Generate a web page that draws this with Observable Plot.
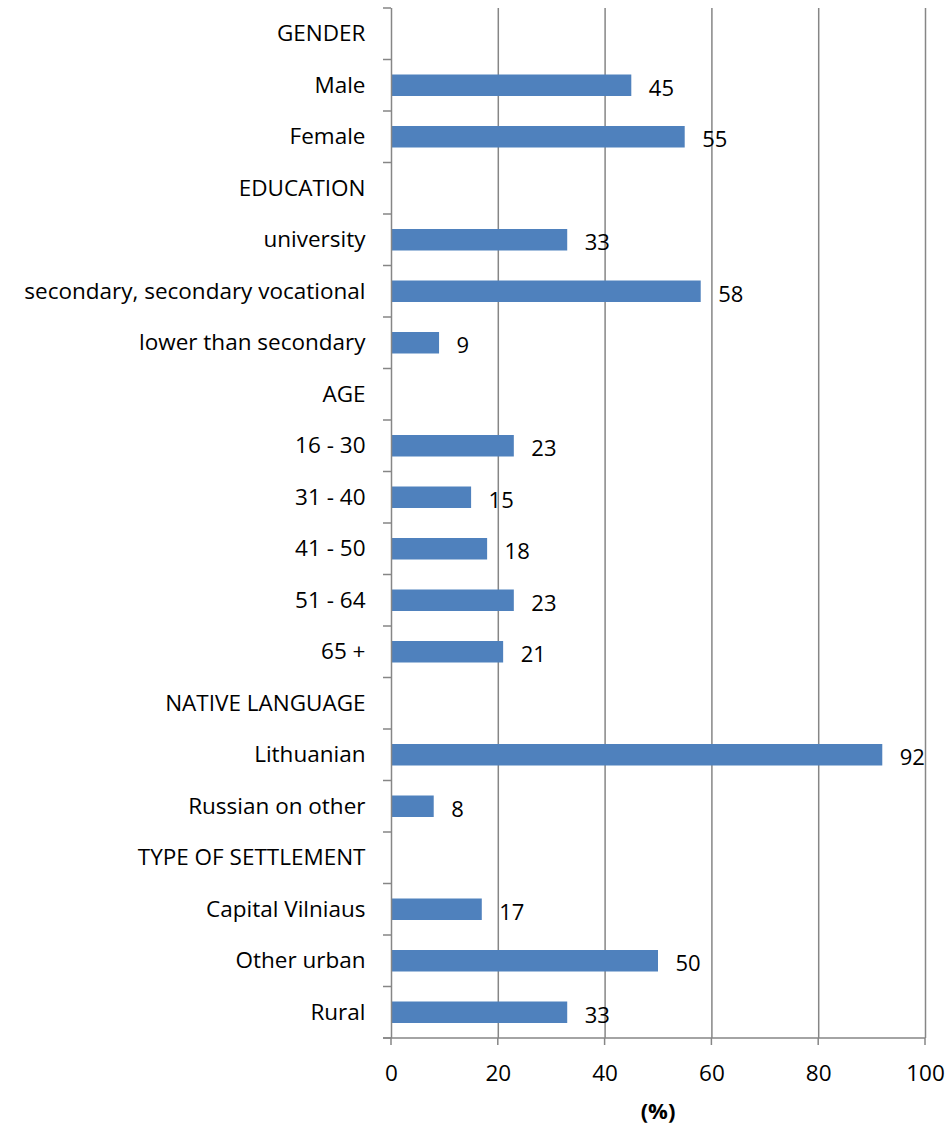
<!DOCTYPE html>
<html><head><meta charset="utf-8">
<script src="https://cdn.jsdelivr.net/npm/d3@7"></script>
<script src="https://cdn.jsdelivr.net/npm/@observablehq/plot@0.6"></script>
<style>body{margin:0;background:#fff}</style>
</head><body><div id="chart"></div>
<script>
const categories = ["GENDER","Male","Female","EDUCATION","university","secondary, secondary vocational","lower than secondary","AGE","16 - 30","31 - 40","41 - 50","51 - 64","65 +","NATIVE LANGUAGE","Lithuanian","Russian on other","TYPE OF SETTLEMENT","Capital Vilniaus","Other urban","Rural"];
const values = [null,45,55,null,33,58,9,null,23,15,18,23,21,null,92,8,null,17,50,33];
const xTicks = [0,20,40,60,80,100];
const xLabel = "(%)";

const data = categories.map((c,i)=>({category:c, value: values[i]}));
const bars = data.filter(d => d.value != null);
const gray = "#868686";
const FONT = "'Open Sans', sans-serif";

function axisDecor(index, scales) {
  const {x, y} = scales;
  const g = d3.create("svg:g").attr("stroke", gray).attr("stroke-width", 1.5).attr("fill", "none");
  const step = y(categories[1]) - y(categories[0]);
  const top = y(categories[0]);
  const x0 = x(0);
  const bottom = top + step * categories.length;
  for (let i = 0; i <= categories.length; i++) {
    const yb = top + i * step;
    g.append("line").attr("x1", x0 - 8).attr("x2", x0).attr("y1", yb).attr("y2", yb);
  }
  g.append("line").attr("x1", x0 - 8).attr("x2", x(100)).attr("y1", bottom).attr("y2", bottom);
  xTicks.forEach(t => g.append("line").attr("x1", x(t)).attr("x2", x(t)).attr("y1", bottom).attr("y2", bottom + 7));
  g.append("text")
    .attr("x", (x(0) + x(100)) / 2).attr("y", bottom + 73).attr("dy", "0.35em")
    .attr("text-anchor", "middle").attr("stroke", "none").attr("fill", "#000")
    .attr("font-weight", "bold").attr("font-size", 22).attr("font-family", FONT)
    .text(xLabel);
  return g.node();
}

const plot = Plot.plot({
  width: 947, height: 1125,
  marginLeft: 391, marginRight: 22, marginTop: 8, marginBottom: 87,
  style: {fontFamily: FONT, fontSize: "22.5px", color: "#000", background: "#fff"},
  x: {domain: [0, 100], ticks: xTicks, tickSize: 0, tickPadding: 27, label: null, round: false},
  y: {domain: categories, padding: 0, round: false, tickSize: 0, tickPadding: 26, label: null},
  marks: [
    Plot.ruleX(xTicks.slice(1), {stroke: gray, strokeWidth: 1.5}),
    Plot.barX(bars, {x: "value", y: "category", fill: "#4F81BD", insetTop: 15, insetBottom: 15}),
    Plot.ruleX([0], {stroke: gray, strokeWidth: 1.5}),
    Plot.text(bars, {x: "value", y: "category", text: d => String(d.value), textAnchor: "start", dx: 17, dy: 3, fontSize: 22, fill: "#000"}),
    axisDecor
  ]
});
document.getElementById("chart").appendChild(plot);
</script>
</body></html>
